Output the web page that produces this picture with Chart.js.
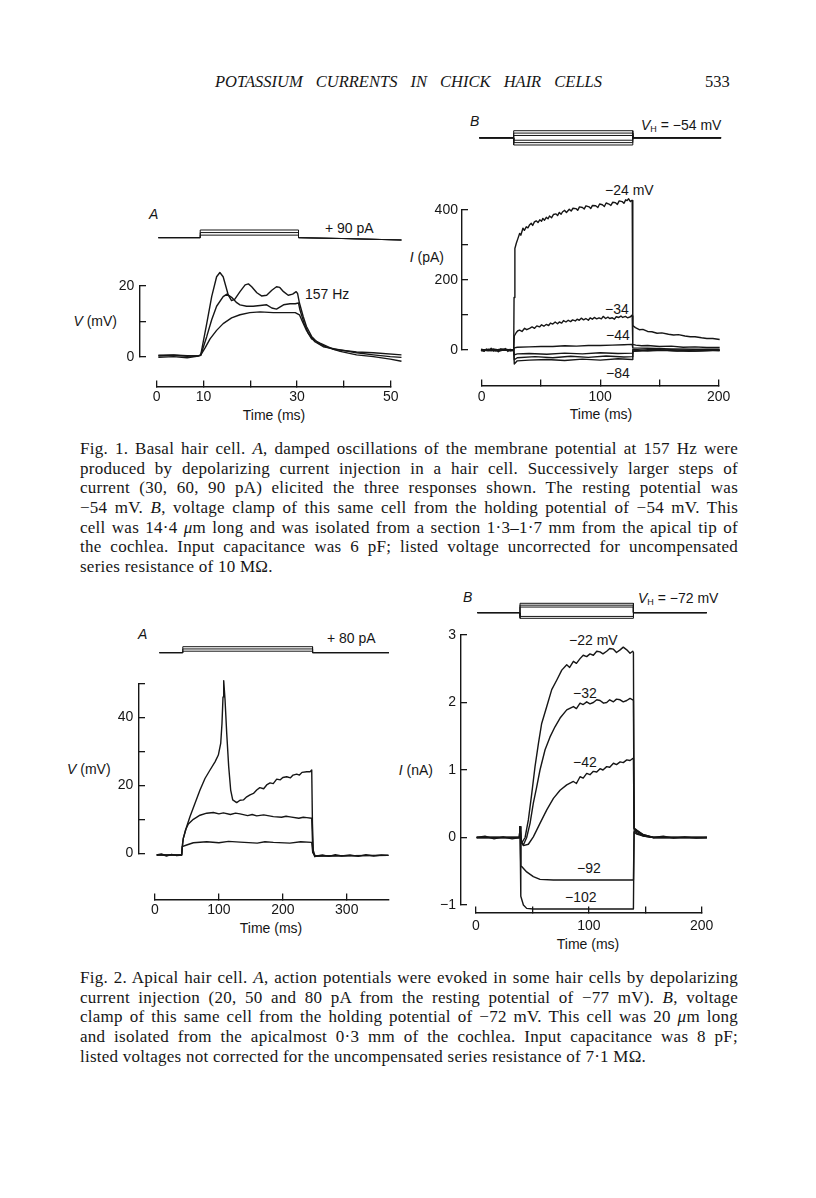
<!DOCTYPE html>
<html>
<head>
<meta charset="utf-8">
<title>Potassium currents in chick hair cells</title>
<script src="https://cdn.jsdelivr.net/npm/chart.js@4.4.1/dist/chart.umd.min.js"></script>
<style>
  html, body { margin: 0; padding: 0; background: #fff; }
  #page { position: relative; width: 816px; height: 1198px; overflow: hidden; background: #fff; color: #161616; }
  #page canvas { position: absolute; }
  .lab { position: absolute; font: 14px "Liberation Sans", Arial, sans-serif; line-height: 14px; height: 14px; white-space: nowrap; }
  .lab sub { font-size: 9px; vertical-align: -2px; line-height: 0; }
  .r { transform: translateX(-100%); }
  .c { transform: translateX(-50%); }
  .cap { position: absolute; left: 80px; width: 658px; font: 17px "Liberation Serif", "Times New Roman", serif; letter-spacing: 0.25px; line-height: 20px; height: 20px; white-space: nowrap; text-align: justify; text-align-last: justify; }
  .cap.end { text-align-last: left; }
  .run { position: absolute; top: 72px; font: italic 16.5px "Liberation Serif", serif; line-height: 20px; white-space: nowrap; }
</style>
</head>
<body>
<div id="page">
  <div class="run" style="left:215px;width:387px;text-align-last:justify;">POTASSIUM CURRENTS IN CHICK HAIR CELLS</div>
  <div class="run" style="left:705px;font-style:normal;">533</div>

  <!-- Fig. 1 labels -->
  <div class="lab" style="left:149px;top:207px;"><i>A</i></div>
  <div class="lab" style="left:325px;top:221px;">+ 90 pA</div>
  <div class="lab r" style="left:117px;top:314px;"><i>V</i> (mV)</div>
  <div class="lab" style="left:305px;top:287px;">157 Hz</div>
  <div class="lab c" style="left:274px;top:408px;">Time (ms)</div>

  <div class="lab" style="left:470px;top:114px;"><i>B</i></div>
  <div class="lab" style="left:641px;top:118px;"><i>V</i><sub>H</sub> = −54 mV</div>
  <div class="lab" style="left:605px;top:183px;">−24 mV</div>
  <div class="lab r" style="left:444px;top:250px;"><i>I</i> (pA)</div>
  <div class="lab" style="left:605px;top:302px;">−34</div>
  <div class="lab" style="left:606px;top:328px;">−44</div>
  <div class="lab" style="left:606px;top:366px;">−84</div>
  <div class="lab c" style="left:601px;top:407px;">Time (ms)</div>

  <!-- Fig. 2 labels -->
  <div class="lab" style="left:138px;top:627px;"><i>A</i></div>
  <div class="lab" style="left:327px;top:631px;">+ 80 pA</div>
  <div class="lab" style="left:67px;top:762px;"><i>V</i> (mV)</div>
  <div class="lab c" style="left:271px;top:921px;">Time (ms)</div>

  <div class="lab" style="left:463px;top:590px;"><i>B</i></div>
  <div class="lab" style="left:638px;top:591px;"><i>V</i><sub>H</sub> = −72 mV</div>
  <div class="lab" style="left:569px;top:633px;">−22 mV</div>
  <div class="lab" style="left:573px;top:686px;">−32</div>
  <div class="lab" style="left:573px;top:755px;">−42</div>
  <div class="lab" style="left:577px;top:861px;">−92</div>
  <div class="lab" style="left:565px;top:890px;">−102</div>
  <div class="lab r" style="left:433px;top:763px;"><i>I</i> (nA)</div>
  <div class="lab c" style="left:588px;top:937px;">Time (ms)</div>

  <!-- captions -->
  <div class="cap" style="top:439px;">Fig. 1. Basal hair cell. <i>A</i>, damped oscillations of the membrane potential at 157 Hz were</div>
  <div class="cap" style="top:459px;">produced by depolarizing current injection in a hair cell. Successively larger steps of</div>
  <div class="cap" style="top:478px;">current (30, 60, 90 pA) elicited the three responses shown. The resting potential was</div>
  <div class="cap" style="top:498px;">−54 mV. <i>B</i>, voltage clamp of this same cell from the holding potential of −54 mV. This</div>
  <div class="cap" style="top:518px;">cell was 14·4 <i>μ</i>m long and was isolated from a section 1·3–1·7 mm from the apical tip of</div>
  <div class="cap" style="top:537px;">the cochlea. Input capacitance was 6 pF; listed voltage uncorrected for uncompensated</div>
  <div class="cap end" style="top:557px;">series resistance of 10 MΩ.</div>

  <div class="cap" style="top:968px;">Fig. 2. Apical hair cell. <i>A</i>, action potentials were evoked in some hair cells by depolarizing</div>
  <div class="cap" style="top:988px;">current injection (20, 50 and 80 pA from the resting potential of −77 mV). <i>B</i>, voltage</div>
  <div class="cap" style="top:1007px;">clamp of this same cell from the holding potential of −72 mV. This cell was 20 <i>μ</i>m long</div>
  <div class="cap" style="top:1027px;">and isolated from the apicalmost 0·3 mm of the cochlea. Input capacitance was 8 pF;</div>
  <div class="cap end" style="top:1047px;">listed voltages not corrected for the uncompensated series resistance of 7·1 MΩ.</div>
</div>

<script>
const INK = '#161616';
const SANS = '"Liberation Sans", Arial, sans-serif';

// ---------- Fig. 1A : basal cell, V (mV) vs time (ms) ----------
const f1aXLabels = [0, 10, 30, 50];
const f1aYLabels = [0, 20];
const f1aV90 = [[0.35,-0.1],[3.6,0.1],[6.5,-0.2],[8.9,0.3],[9.4,0.5],[10.7,9.5],[11.75,17.0],[12.8,22.6],[13.5,23.8],[14.2,22.6],[14.8,19.8],[15.3,17.4],[16.0,15.9],[16.7,16.3],[17.8,18.4],[18.9,20.3],[19.6,20.6],[20.3,19.8],[21.4,18.1],[22.4,17.2],[23.5,17.4],[24.6,18.8],[25.6,19.8],[26.3,19.6],[27.1,18.4],[28.1,17.4],[29.05,17.7],[29.8,18.4],[30.1,17.9],[30.5,15.2],[31.3,11.4],[32.0,8.6],[33.1,5.8],[34.5,3.9],[36.3,2.8],[39.2,1.6],[42.7,0.6],[46.3,0.1],[49.9,-0.6],[52.3,-1.2]];
const f1aV60 = [[0.35,0.3],[3.6,0.5],[6.5,0.2],[8.9,0.4],[9.4,0.5],[10.7,5.8],[11.75,10.5],[12.8,14.3],[14.2,17.0],[15.0,17.7],[16.0,16.8],[17.1,15.3],[17.8,14.7],[19.2,14.3],[20.6,14.3],[22.1,14.5],[23.5,14.7],[24.6,13.8],[25.6,13.5],[27.1,14.7],[28.5,15.0],[29.6,15.0],[30.3,15.2],[30.6,13.3],[31.5,9.5],[32.4,6.7],[33.8,4.3],[35.6,2.9],[39.2,2.0],[42.7,1.2],[46.3,0.6],[49.9,0.1],[52.3,-0.1]];
const f1aV30 = [[0.35,0.5],[3.6,0.6],[6.5,0.4],[8.9,0.3],[9.4,0.5],[10.4,2.7],[11.4,5.1],[12.8,7.5],[14.2,9.4],[16.0,11.0],[17.8,11.9],[19.9,12.5],[22.1,12.7],[24.9,12.5],[27.8,12.5],[29.6,12.5],[30.5,11.9],[31.3,9.5],[32.0,7.5],[33.1,5.1],[34.9,3.9],[37.7,2.2],[42.7,1.4],[46.3,1.2],[52.3,0.6]];
// injected current (pA)
const f1aI30 = [[0.35,0],[9.3,0],[9.3,30],[30.3,30],[30.3,0],[40,-10],[52.3,-27]];
const f1aI60 = [[0.35,0],[9.3,0],[9.3,60],[30.3,60],[30.3,0],[40,-10],[52.3,-27]];
const f1aI90 = [[0.35,0],[9.3,0],[9.3,90],[30.3,90],[30.3,0],[40,-10],[52.3,-27]];

// ---------- Fig. 1B : basal cell, I (pA) vs time (ms) ----------
const f1bXLabels = [0, 100, 200];
const f1bYLabels = [0, 200, 400];
const f1bI24 = [[-0.6,0],[2,-4],[4,3],[6,-2],[8,5],[10,-3],[12,2],[14,-5],[16,3],[18,-1],[20,4],[22,-4],[24,2],[26,-2],[27,0],[27.3,150],[28,290],[29.2,305],[30.6,319],[32,333],[33,328],[34.8,348],[36,342],[37.6,352],[39,349],[40.5,358],[41.8,362],[43,356],[44.5,366],[46,369],[47.5,364],[49,372],[50.5,368],[51.6,376],[53,371],[54.5,379],[56,375],[57.2,383],[59,378],[60.5,387],[62.7,389],[64,384],[65.5,393],[67,388],[68.3,395],[70,399],[71.5,393],[73.9,402],[75.5,397],[77,405],[79.5,404],[81,399],[82.5,409],[85,407],[86.5,403],[88,412],[90.6,409],[92,404],[93.5,413],[96.2,412],[98,407],[99.5,417],[101.8,415],[103.5,410],[105,420],[107.4,417],[109,413],[110.5,422],[112.9,421],[114.5,416],[116,426],[118.5,424],[120,419],[121.5,429],[122.7,427],[124,432],[125.5,424],[126.5,427],[127,427],[127.5,70],[129.7,64],[133,58],[136,59],[140,53],[143.6,52],[148,48],[152,49],[157.6,45],[162,43],[166,44],[171.5,40],[176,38],[180,38],[185.5,35],[190,33],[195,33],[200.8,30]];
const f1bI34 = [[-0.6,2],[5,-2],[10,3],[15,-3],[20,2],[25,-2],[27,0],[27.5,40],[29.2,50],[30.5,55],[32,57],[34,53],[36.2,62],[38,58],[40.4,62],[42.5,66],[44.6,62],[46.5,69],[48.8,66],[50.5,72],[52.5,68],[54.4,73],[56.5,70],[58,77],[60,74],[62,80],[64,75],[65.5,80],[67.5,77],[69,84],[71.1,80],[73,85],[75,81],[76.7,86],[79,83],[80.5,88],[82.3,85],[84,91],[86,86],[87.9,90],[90,85],[91.5,92],[93.4,88],[95,93],[97,89],[99,92],[101,89],[102.5,96],[104.6,90],[106.5,94],[108,90],[110.2,92],[112,88],[113.5,95],[115.7,93],[117.5,97],[119,93],[121.3,96],[123,92],[125.5,95],[126.5,99],[127,97],[127.5,16],[130,14],[135,12],[140,13],[150,10],[160,11],[170,8],[180,9],[190,7],[200.8,7]];
const f1bI44 = [[-0.6,-2],[6,2],[12,-3],[18,2],[24,-2],[27,0],[27.5,6],[30,8],[40,9],[50,10],[60,10],[70,12],[80,11],[90,13],[100,13],[110,14],[120,15],[126.5,16],[127,16],[127.5,6],[140,5],[160,3],[180,2],[200.8,2]];
const f1bI64 = [[-0.6,1],[8,-2],[16,2],[27,0],[27.5,-14],[30,-11],[40,-10],[55,-12],[70,-9],[85,-11],[100,-8],[115,-10],[127,-9],[127.5,2],[140,-2],[160,1],[180,-3],[200.8,0]];
const f1bI74 = [[-0.6,0],[27,0],[27.5,-28],[30,-22],[45,-19],[60,-22],[75,-18],[90,-21],[105,-17],[120,-20],[127,-19],[127.5,-3],[145,2],[165,-3],[185,1],[200.8,-2]];
const f1bI84 = [[-0.6,-1],[27,0],[27.5,-40],[30,-31],[40,-29],[55,-27],[70,-30],[85,-26],[100,-29],[115,-25],[127,-27],[127.5,-4],[150,-1],[175,-4],[200.8,-1]];
// command voltage (mV), holding -54 mV
const f1bCmd24 = [[-2,-54],[27,-54],[27,-24],[127.5,-24],[127.5,-54],[202,-54]];
const f1bCmd34 = [[-2,-54],[27,-54],[27,-34],[127.5,-34],[127.5,-54],[202,-54]];
const f1bCmd44 = [[-2,-54],[27,-54],[27,-44],[127.5,-44],[127.5,-54],[202,-54]];
const f1bCmd64 = [[-2,-54],[27,-54],[27,-64],[127.5,-64],[127.5,-54],[202,-54]];
const f1bCmd74 = [[-2,-54],[27,-54],[27,-74],[127.5,-74],[127.5,-54],[202,-54]];
const f1bCmd84 = [[-2,-54],[27,-54],[27,-84],[127.5,-84],[127.5,-54],[202,-54]];

// ---------- Fig. 2A : apical cell, V (mV) vs time (ms) ----------
const f2aXLabels = [0, 100, 200, 300];
const f2aYLabels = [0, 20, 40];
const f2aV80 = [[2.6,-0.5],[10,-0.2],[18,-0.8],[26,-0.3],[34,-0.7],[41.7,-0.5],[43.3,3.0],[44.3,4.4],[49.5,7.8],[54.8,10.8],[62.6,14.7],[70.4,18.6],[78.2,22.0],[86.1,24.5],[93.9,26.9],[99.1,28.9],[102.8,32.3],[104.8,38.2],[106.4,46.0],[107.5,50.8],[109.6,45.1],[112.2,35.3],[115.3,25.5],[118.4,18.6],[121.6,15.7],[127.8,14.9],[133,15.6],[138.3,15.7],[143.5,16.6],[148.7,17.2],[154,17.6],[159.1,18.6],[164,19.3],[170,19.0],[174.7,20.1],[180,20.7],[185,20.5],[190.4,21.8],[196,21.6],[200,22.3],[206.1,22.5],[212,22.2],[216,23.0],[221.7,23.3],[226,23.0],[230,23.8],[237.4,24.0],[242.6,24.0],[245.2,24.5],[246.3,8.8],[247.8,0.2],[250,-1.0],[253.1,-0.8],[262,-0.5],[272,-0.9],[282,-0.4],[292,-0.8],[305,-0.5],[318,-0.9],[330,-0.4],[342,-0.8],[354,-0.5],[365.2,-0.6]];
const f2aV50 = [[2.6,-0.5],[41.7,-0.5],[43.3,3.0],[44.3,4.4],[48,7.0],[52.2,8.6],[60,10.0],[70.4,11.2],[80.9,11.8],[91.3,12.0],[100,11.6],[107,11.9],[118,11.4],[126,11.8],[133,11.6],[145,11.1],[152,11.4],[159.1,11.0],[170,11.3],[185.2,10.8],[198,10.6],[205,10.9],[211.3,10.7],[225,10.3],[232,10.6],[237.4,10.5],[245.2,10.3],[246.8,1.3],[250.4,-0.8],[365.2,-0.6]];
const f2aV20 = [[2.6,-0.5],[41.7,-0.5],[42.5,1.96],[49.5,2.45],[60,3.1],[80.9,3.4],[100,3.1],[115,3.5],[133,3.3],[160,3.0],[172,3.4],[185.2,3.2],[211,3.0],[228,3.4],[245.2,3.2],[246.8,0.2],[250.4,-0.8],[365.2,-0.6]];
// injected current (pA)
const f2aI20 = [[6.8,0],[43.5,0],[43.5,20],[246.5,20],[246.5,0],[366,0]];
const f2aI50 = [[6.8,0],[43.5,0],[43.5,50],[246.5,50],[246.5,0],[366,0]];
const f2aI80 = [[6.8,0],[43.5,0],[43.5,80],[246.5,80],[246.5,0],[366,0]];

// ---------- Fig. 2B : apical cell, I (nA) vs time (ms) ----------
const f2bXLabels = [0, 100, 200];
const f2bYLabels = [-1, 0, 1, 2, 3];
const f2bI22 = [[0.6,0],[8,0.02],[16,-0.02],[24,0.01],[32,-0.02],[38.5,0],[39,0.16],[40,-0.06],[40.5,-0.08],[43.5,0.0],[46.4,0.26],[49.4,0.65],[52.3,1.05],[55.3,1.39],[58.2,1.69],[62.7,1.94],[67.1,2.19],[71.5,2.33],[76.0,2.48],[80.4,2.56],[83,2.52],[86.3,2.61],[89,2.58],[92.2,2.65],[95,2.70],[98.1,2.68],[101,2.72],[104.0,2.70],[107,2.76],[109.9,2.75],[112.5,2.72],[115.8,2.76],[118.5,2.80],[121.8,2.79],[124.5,2.74],[127.7,2.78],[130.5,2.82],[133.6,2.78],[136.5,2.73],[138.9,2.76],[139.5,2.74],[140.1,0.14],[142.5,0.11],[148.4,0.04],[157.3,0.0],[166,0.02],[175,-0.01],[185,0.01],[195,-0.01],[204.6,0]];
const f2bI32 = [[0.6,0],[38.5,0],[39,0.16],[40,-0.06],[42,-0.11],[44.9,0.0],[47.9,0.21],[50.8,0.51],[53.8,0.75],[56.7,1.0],[61.2,1.30],[65.6,1.49],[70.0,1.64],[74.5,1.77],[80.4,1.89],[86.3,1.94],[89,1.91],[92.2,1.99],[95,1.97],[98.1,2.01],[101,1.98],[104,2.0],[107,2.04],[109.9,2.03],[113,1.99],[115.8,2.0],[118.5,2.04],[121.8,2.01],[124.5,2.05],[127.7,2.04],[130.5,2.01],[133.6,2.03],[136.5,2.06],[138.9,2.04],[139.5,2.03],[140.1,0.13],[142.5,0.10],[148.4,0.04],[157.3,0.0],[175,0],[204.6,0]];
const f2bI42 = [[0.6,0],[38.5,0],[39,0.16],[40,-0.06],[42,-0.12],[46.4,-0.1],[50.8,0.01],[56.7,0.21],[62.7,0.41],[68.6,0.58],[74.5,0.70],[80.4,0.78],[86.3,0.83],[89,0.80],[92.2,0.90],[95,0.88],[98.1,0.95],[101,0.93],[104.0,0.98],[107,0.97],[109.9,1.02],[112.5,1.0],[115.8,1.05],[118.5,1.04],[121.8,1.10],[124.5,1.08],[127.7,1.12],[130.5,1.11],[133.6,1.15],[136.5,1.14],[138.9,1.17],[139.5,1.17],[140.1,0.12],[142.5,0.09],[148.4,0.03],[157.3,0],[204.6,0]];
const f2bI92 = [[0.6,0],[38.5,0],[39,0.16],[39.7,-0.43],[40.5,-0.43],[44.9,-0.51],[50.8,-0.58],[56.7,-0.62],[68.6,-0.63],[100,-0.63],[139.5,-0.63],[140.1,0.10],[142.5,0.07],[148.4,0.02],[157.3,0],[204.6,0]];
const f2bI102 = [[0.6,0],[38.5,0],[39,0.16],[39.7,-0.87],[42,-1.0],[44.9,-1.05],[50.8,-1.06],[139.5,-1.06],[140.1,0.08],[142.5,0.05],[148.4,0.02],[157.3,0],[204.6,0]];
// command voltage (mV), holding -72 mV
const f2bCmd22 = [[1.2,-72],[39,-72],[39,-22],[139.5,-22],[139.5,-72],[204.5,-72]];
const f2bCmd32 = [[1.2,-72],[39,-72],[39,-32],[139.5,-32],[139.5,-72],[204.5,-72]];
const f2bCmd42 = [[1.2,-72],[39,-72],[39,-42],[139.5,-42],[139.5,-72],[204.5,-72]];
const f2bCmd92 = [[1.2,-72],[39,-72],[39,-92],[139.5,-92],[139.5,-72],[204.5,-72]];
const f2bCmd102 = [[1.2,-72],[39,-72],[39,-102],[139.5,-102],[139.5,-72],[204.5,-72]];

// ---------- drawing ----------
const fmt = v => (v < 0 ? '\u2212' + Math.abs(v) : String(v));

function trace(pts, axisId, width) {
  return {
    data: pts.map(([x, y]) => ({x, y})),
    yAxisID: axisId,
    borderColor: INK,
    borderWidth: width,
    borderJoinStyle: 'round',
    pointRadius: 0,
    tension: 0,
    clip: false
  };
}

// box = canvas rect on the page, area = chart area on the page (axis extents)
// x.axisAt = page y of the time axis, y.axisAt = page x of the vertical axis
// stim: page pixel p0 of value v0, k pixels per unit
function panel(p) {
  const cv = document.createElement('canvas');
  cv.width = p.box.w;
  cv.height = p.box.h;
  cv.style.left = p.box.x + 'px';
  cv.style.top = p.box.y + 'px';
  document.getElementById('page').appendChild(cv);

  const a = p.area;
  const xAt = px => p.x.min + (px - a.l) * (p.x.max - p.x.min) / (a.r - a.l);
  const yAt = py => p.y.min + (a.b - py) * (p.y.max - p.y.min) / (a.b - a.t);
  const s = p.stim;

  const tickFont = {family: SANS, size: 14};
  const grid = {drawOnChartArea: false, drawTicks: true, tickLength: -7, color: INK, lineWidth: 1.3};
  const border = {display: true, color: INK, width: 1.4};

  return new Chart(cv.getContext('2d'), {
    type: 'line',
    data: {
      datasets: [
        ...p.stimTraces.map(d => trace(d, 'ys', 1)),
        ...p.traces.map(d => trace(d, 'y', 1.4))
      ]
    },
    options: {
      responsive: false,
      animation: false,
      events: [],
      layout: {
        autoPadding: false,
        padding: {
          left: a.l - p.box.x,
          right: p.box.x + p.box.w - a.r,
          top: a.t - p.box.y,
          bottom: p.box.y + p.box.h - a.b
        }
      },
      plugins: {legend: {display: false}, tooltip: {enabled: false}},
      scales: {
        x: {
          type: 'linear', min: p.x.min, max: p.x.max,
          position: {y: yAt(p.x.axisAt)},
          grid, border,
          ticks: {
            stepSize: p.x.step, autoSkip: false, maxRotation: 0, includeBounds: false,
            padding: p.x.pad, color: INK, font: tickFont,
            callback: v => (p.x.labels.includes(v) ? fmt(v) : '')
          }
        },
        y: {
          type: 'linear', min: p.y.min, max: p.y.max,
          position: {x: xAt(p.y.axisAt)},
          grid, border,
          ticks: {
            stepSize: p.y.step, autoSkip: false, color: INK, font: tickFont,
            callback: v => (p.y.labels.includes(v) ? fmt(v) + p.y.gap : '')
          }
        },
        ys: {
          axis: 'y', type: 'linear', display: false,
          min: s.v0 + (s.p0 - a.b) / s.k,
          max: s.v0 + (s.p0 - a.t) / s.k
        }
      }
    }
  });
}

panel({
  box: {x: 50, y: 190, w: 370, h: 240},
  area: {l: 156.7, r: 390.7, t: 286, b: 357},
  x: {min: 0, max: 50, step: 10, labels: f1aXLabels, axisAt: 386.7, pad: 9.4},
  y: {min: 0, max: 20, step: 10, labels: f1aYLabels, axisAt: 139.3, gap: ' \u200A'},
  stim: {v0: 0, p0: 237.7, k: 0.0856},
  stimTraces: [f1aI30, f1aI60, f1aI90],
  traces: [f1aV30, f1aV60, f1aV90]
});

panel({
  box: {x: 420, y: 100, w: 320, h: 330},
  area: {l: 481.7, r: 720.7, t: 210, b: 350},
  x: {min: 0, max: 200, step: 50, labels: f1bXLabels, axisAt: 386, pad: 9.6},
  y: {min: 0, max: 400, step: 100, labels: f1bYLabels, axisAt: 461.7, gap: ' '},
  stim: {v0: -54, p0: 137.85, k: 0.238},
  stimTraces: [f1bCmd24, f1bCmd34, f1bCmd44, f1bCmd64, f1bCmd74, f1bCmd84],
  traces: [f1bI84, f1bI74, f1bI64, f1bI44, f1bI34, f1bI24]
});

panel({
  box: {x: 50, y: 620, w: 370, h: 330},
  area: {l: 155, r: 388.3, t: 683.3, b: 853.3},
  x: {min: 0, max: 365, step: 100, labels: f2aXLabels, axisAt: 899.3, pad: 9.3},
  y: {min: 0, max: 50, step: 10, labels: f2aYLabels, axisAt: 138.3, gap: ' \u200A'},
  stim: {v0: 0, p0: 652.7, k: 0.075},
  stimTraces: [f2aI20, f2aI50, f2aI80],
  traces: [f2aV20, f2aV50, f2aV80]
});

panel({
  box: {x: 420, y: 585, w: 320, h: 365},
  area: {l: 476, r: 701.7, t: 635, b: 905},
  x: {min: 0, max: 200, step: 50, labels: f2bXLabels, axisAt: 912.7, pad: 11.6},
  y: {min: -1, max: 3, step: 1, labels: f2bYLabels, axisAt: 461, gap: ' \u200A'},
  stim: {v0: -22, p0: 603.3, k: 0.1875},
  stimTraces: [f2bCmd22, f2bCmd32, f2bCmd42, f2bCmd92, f2bCmd102],
  traces: [f2bI102, f2bI92, f2bI42, f2bI32, f2bI22]
});
</script>
</body>
</html>
